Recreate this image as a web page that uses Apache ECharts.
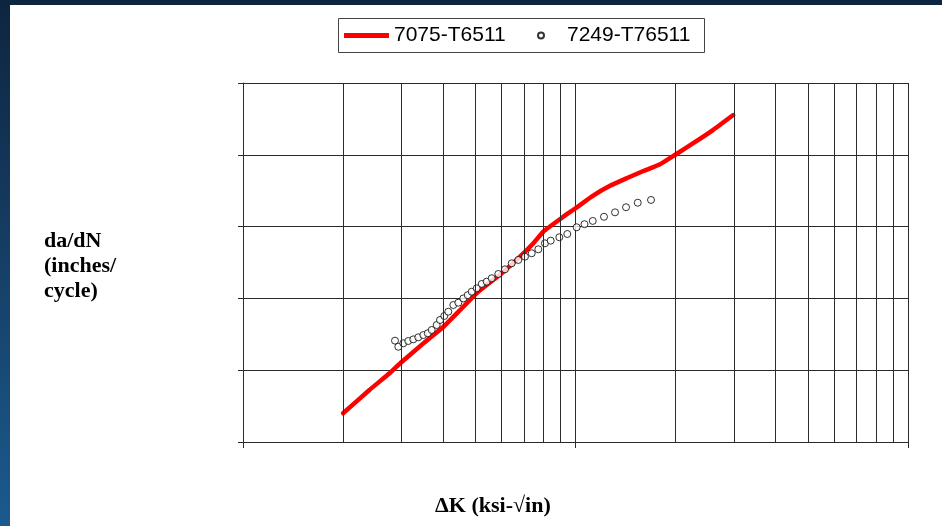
<!DOCTYPE html>
<html>
<head>
<meta charset="utf-8">
<script src="https://cdn.jsdelivr.net/npm/echarts@6/dist/echarts.min.js"></script>
<style>
  html, body { margin: 0; padding: 0; }
  #frame {
    position: relative;
    width: 942px;
    height: 526px;
    background: linear-gradient(180deg, #0e2540 0%, #163f66 50%, #1b5a8e 100%);
    overflow: hidden;
  }
  #chart {
    position: absolute;
    left: 10px;
    top: 5px;
    width: 932px;
    height: 521px;
    background: #fff;
  }
</style>
</head>
<body>
<div id="frame"><div id="chart"></div></div>
<script>
// 7075-T6511 curve (delta K, da/dN)
const kRed = [2.0, 2.4, 2.77, 3.0, 3.5, 4.0, 4.5, 5.04, 6.0, 6.81, 7.47, 8.0, 9.19, 10, 11.3, 12.7, 14.3,
  16.0, 17.9, 19.9, 22.6, 25.9, 29.8];
const rateRed = [2.51e-8, 5.3e-8, 9.2e-8, 1.3e-7, 2.4e-7, 4.0e-7, 6.9e-7, 1.18e-6, 2.24e-6, 3.81e-6,
  5.85e-6, 8.49e-6, 1.37e-5, 1.80e-5, 2.70e-5, 3.7e-5, 4.75e-5, 5.95e-5, 7.3e-5, 9.93e-5, 1.45e-4,
  2.21e-4, 3.58e-4];

// 7249-T76511 test points
const kCirc = [2.865, 2.932, 3.035, 3.141, 3.252, 3.367, 3.486, 3.594, 3.694, 3.824, 3.913, 4.031, 4.144,
  4.291, 4.442, 4.599, 4.741, 4.874, 5.046, 5.224, 5.407, 5.598, 5.859, 6.137, 6.429, 6.730, 7.047,
  7.385, 7.731, 8.092, 8.422, 8.940, 9.448, 10.08, 10.64, 11.27, 12.18, 13.15, 14.19, 15.39, 16.87];
const rateCirc = [2.58e-7, 2.12e-7, 2.37e-7, 2.55e-7, 2.69e-7, 2.87e-7, 3.09e-7, 3.27e-7, 3.63e-7, 4.26e-7,
  5.00e-7, 5.69e-7, 6.53e-7, 8.09e-7, 8.71e-7, 1.00e-6, 1.11e-6, 1.24e-6, 1.38e-6, 1.59e-6, 1.71e-6,
  1.91e-6, 2.19e-6, 2.54e-6, 3.08e-6, 3.43e-6, 3.81e-6, 4.25e-6, 4.83e-6, 5.85e-6, 6.37e-6, 7.10e-6,
  7.89e-6, 9.78e-6, 1.08e-5, 1.20e-5, 1.37e-5, 1.58e-5, 1.86e-5, 2.15e-5, 2.35e-5];

// minor log gridlines on the x axis
const xMinorGrid = [2, 3, 4, 5, 6, 7, 8, 9, 20, 30, 40, 50, 60, 70, 80, 90];

const names = ["7075-T6511", "7249-T76511"];
const gridColor = "#2b2b2b";

const chart = echarts.init(document.getElementById("chart"));

const option = {
  animation: false,
  backgroundColor: "#fff",
  title: [
    {
      text: "da/dN\n(inches/\ncycle)",
      left: 34,
      top: 224,
      padding: 0,
      textStyle: {
        fontFamily: "'Liberation Serif', 'Times New Roman', serif",
        fontWeight: "bold",
        fontSize: 22,
        lineHeight: 25,
        color: "#000",
      },
    },
    {
      text: "ΔK (ksi-√in)",
      left: 425,
      top: 490,
      padding: 0,
      textStyle: {
        fontFamily: "'Liberation Serif', 'Times New Roman', serif",
        fontWeight: "bold",
        fontSize: 22,
        color: "#000",
      },
    },
  ],
  legend: [
    {
      data: [names[0]],
      left: 334,
      top: 20,
      padding: 0,
      icon: "rect",
      itemWidth: 45,
      itemHeight: 5,
      textStyle: { fontFamily: "'Liberation Sans', Arial, sans-serif", fontSize: 21, color: "#000" },
    },
    {
      data: [names[1]],
      left: 527,
      top: 20,
      padding: 0,
      itemWidth: 6,
      itemHeight: 6,
      textStyle: {
        fontFamily: "'Liberation Sans', Arial, sans-serif",
        fontSize: 21,
        color: "#000",
        padding: [0, 0, 0, 18],
      },
    },
  ],
  graphic: [
    {
      type: "rect",
      shape: { x: 328.5, y: 13.5, width: 366, height: 34 },
      style: { fill: null, stroke: "#444", lineWidth: 1 },
    },
  ],
  grid: { left: 233, right: 34, top: 78, bottom: 84 },
  xAxis: {
    type: "log",
    logBase: 10,
    min: 1,
    max: 100,
    axisLine: { show: true, lineStyle: { color: gridColor, width: 1 } },
    axisTick: { show: true, length: 6, lineStyle: { color: gridColor } },
    axisLabel: { show: false },
    splitLine: { show: true, lineStyle: { color: gridColor, width: 1 } },
  },
  yAxis: {
    type: "log",
    logBase: 10,
    min: 1e-8,
    max: 1e-3,
    axisLine: { show: true, lineStyle: { color: gridColor, width: 1 } },
    axisTick: { show: true, length: 5, lineStyle: { color: gridColor } },
    axisLabel: { show: false },
    splitLine: { show: true, lineStyle: { color: gridColor, width: 1 } },
  },
  series: [
    {
      name: "minor-grid",
      type: "line",
      data: [],
      z: 1,
      silent: true,
      markLine: {
        silent: true,
        symbol: ["none", "none"],
        label: { show: false },
        lineStyle: { color: gridColor, width: 1, type: "solid" },
        data: xMinorGrid.map((v) => ({ xAxis: v })),
      },
    },
    {
      name: names[0],
      type: "line",
      z: 3,
      showSymbol: false,
      smooth: 0.15,
      data: kRed.map((k, i) => [k, rateRed[i]]),
      lineStyle: { color: "#ff0000", width: 4.5, join: "round", cap: "round" },
      itemStyle: { color: "#ff0000" },
    },
    {
      name: names[1],
      type: "scatter",
      z: 4,
      symbol: "circle",
      symbolSize: 7,
      data: kCirc.map((k, i) => [k, rateCirc[i]]),
      itemStyle: { color: "#fff", borderColor: "#000", borderWidth: 1 },
    },
  ],
};

chart.setOption(option);
</script>
</body>
</html>
